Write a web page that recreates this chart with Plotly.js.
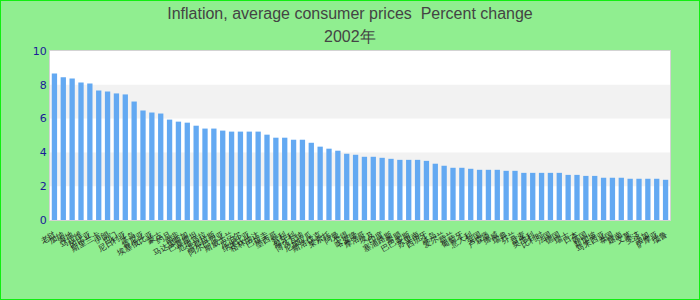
<!DOCTYPE html>
<html>
<head>
<meta charset="utf-8">
<script src="https://cdn.plot.ly/plotly-3.0.1.min.js"></script>
<style>
html,body{margin:0;padding:0;background:#90EE90;}
#chart{width:698px;height:298px;border:1px solid #11ee11;}
</style>
</head>
<body>
<div id="chart"></div>
<script>
const titleLine1 = "Inflation, average consumer prices  Percent change";
const titleLine2 = "2002年";
const countries = [
  "老挝","加纳","海地","马拉维","冈比亚","斯里兰卡","伊朗","也门","尼日利亚","冰岛",
  "肯尼亚","埃塞俄比亚","蒙古","约旦","南非","马达加斯加","巴基斯坦","危地马拉","洪都拉斯","阿尔巴尼亚",
  "斯威士兰","尼泊尔","纳米比亚","格林纳达","巴拉圭","墨西哥","智利","匈牙利","博茨瓦纳","尼加拉瓜",
  "斯洛伐克","莱索托","阿曼","乍得","喀麦隆","摩洛哥","埃及","印度","塞浦路斯","希腊",
  "巴巴多斯","苏里南","西班牙","冰岛","爱尔兰","荷兰","葡萄牙","意大利","英国","卢森堡",
  "挪威","瑞典","芬兰","丹麦","奥地利","比利时","法国","德国","瑞士","日本",
  "韩国","新加坡","马来西亚","泰国","越南","文莱","斐济","汤加","萨摩亚","瑙鲁"
];
const inflation = [
  8.67,8.44,8.38,8.14,8.08,7.66,7.60,7.49,7.43,7.01,
  6.48,6.36,6.30,5.94,5.82,5.76,5.58,5.41,5.41,5.29,
  5.23,5.23,5.23,5.23,5.05,4.87,4.87,4.75,4.75,4.57,
  4.34,4.22,4.10,3.92,3.86,3.74,3.74,3.68,3.62,3.56,
  3.56,3.56,3.50,3.33,3.21,3.09,3.09,3.03,2.97,2.97,
  2.97,2.91,2.91,2.79,2.79,2.79,2.79,2.79,2.67,2.67,
  2.61,2.61,2.50,2.50,2.50,2.44,2.44,2.44,2.44,2.38
];
const yTicks = [0,2,4,6,8,10];
// make category labels unique (duplicates would merge categories)
const cats = countries.map((c,i)=> countries.indexOf(c)===i ? c : c + "\u200b".repeat(i));

const bands = [[2,4],[6,8]].map(b => ({
  type:'rect', xref:'paper', yref:'y', x0:0, x1:1, y0:b[0], y1:b[1],
  fillcolor:'#f2f2f2', line:{width:0}, layer:'below'
}));
const titleFont = {family:'Liberation Sans, Arial, sans-serif', size:16, color:'#444444'};

Plotly.newPlot('chart', [{
  type:'bar', x:cats, y:inflation,
  marker:{color:'#63a9f2'},
  width:0.6,
  hoverinfo:'x+y'
}], {
  width:698, height:298,
  paper_bgcolor:'#90EE90', plot_bgcolor:'#ffffff',
  margin:{l:49, r:29, t:50, b:79},
  title:{text:titleLine1, font:titleFont, x:0.5, xanchor:'center', yref:'container', y:1-12/298, yanchor:'middle'},
  annotations:[{text:titleLine2, font:titleFont, xref:'paper', x:(350-50)/620, xanchor:'center', yref:'paper', y:1, yanchor:'middle', yshift:15, showarrow:false}],
  showlegend:false,
  bargap:0.4,
  xaxis:{type:'category', dtick:1, tickangle:-30, ticklabelstandoff:6, tickfont:{family:'DejaVu Sans, sans-serif', size:8, color:'#222'},
    showline:true, mirror:true, linecolor:'#d3d3d3', linewidth:1, ticks:'', showgrid:false, automargin:false},
  yaxis:{range:[0,10], tickvals:yTicks, ticktext:yTicks.map(String), tickfont:{family:'DejaVu Sans, sans-serif', size:11, color:'#1a1a99'},
    showline:true, mirror:true, linecolor:'#d3d3d3', linewidth:1, showgrid:false, zeroline:false, ticks:'', automargin:false},
  shapes:bands
}, {displayModeBar:false, staticPlot:true});
</script>
</body>
</html>
